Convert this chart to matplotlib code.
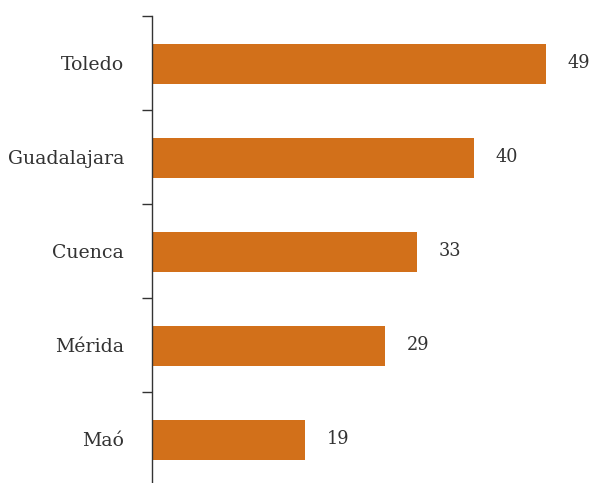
import numpy as np
import matplotlib.pyplot as plt
from matplotlib.ticker import FixedLocator

cities = ['Maó', 'Mérida', 'Cuenca', 'Guadalajara', 'Toledo']
values = [19, 29, 33, 40, 49]

BAR_COLOR = '#D2701A'
TEXT_COLOR = '#333333'

plt.rcParams['font.family'] = ['DejaVu Serif']

fig = plt.figure(figsize=(5.9, 4.83), dpi=100)
ax = fig.add_axes([152 / 590, 0.0, 1 - 152 / 590, 1 - 16 / 483])

y = np.arange(len(cities))
ax.barh(y - 0.01, values, height=0.43, color=BAR_COLOR)

for yi, v in zip(y, values):
    ax.text(v + 2.7, yi, str(v), va='center', ha='left',
            fontsize=12.7, color=TEXT_COLOR)

ax.set_xlim(0, 438 / 8.04)
ax.set_ylim(-0.468, 4.5)

ax.set_yticks(y)
ax.set_yticklabels(cities, fontsize=13.6, color=TEXT_COLOR)
ax.yaxis.set_minor_locator(FixedLocator(y + 0.5))
ax.tick_params(axis='y', which='major', length=0, pad=20)
ax.tick_params(axis='y', which='minor', length=7, width=1, color=TEXT_COLOR)
ax.set_xticks([])

for side in ['top', 'right', 'bottom']:
    ax.spines[side].set_visible(False)
ax.spines['left'].set_color(TEXT_COLOR)
ax.spines['left'].set_linewidth(1)

fig.savefig('out.png', dpi=100)
